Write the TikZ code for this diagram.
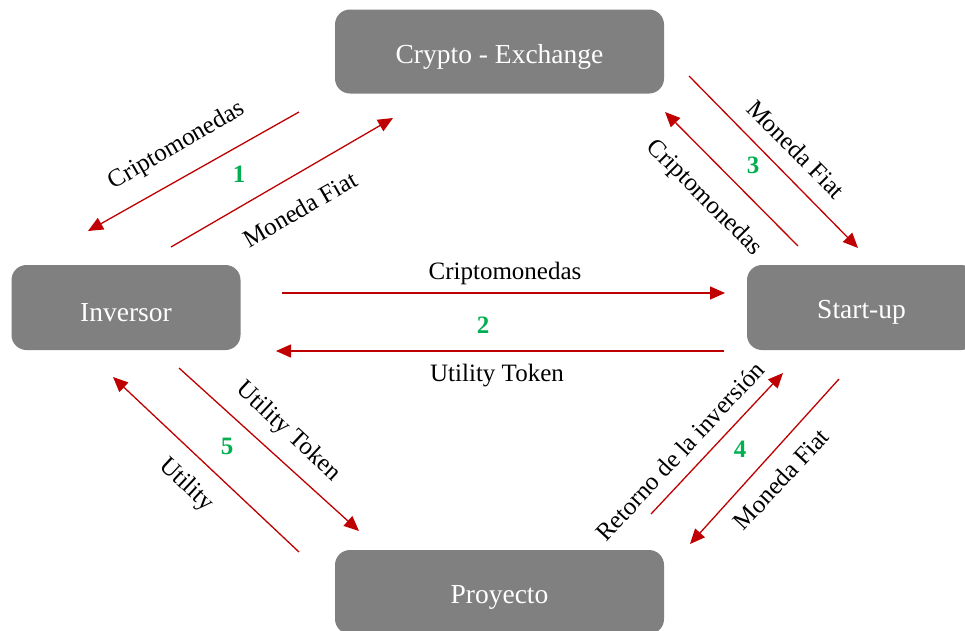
\documentclass[tikz,border=0pt]{standalone}
\usepackage{fontspec}
\setmainfont{Liberation Serif}
\usetikzlibrary{arrows.meta}
\definecolor{boxgray}{HTML}{808080}
\definecolor{arrred}{HTML}{C00000}
\definecolor{numgreen}{HTML}{00B050}
\newcommand{\boxtxt}[1]{\raisebox{-5pt}[\height][\depth]{#1}}
\tikzset{
  entity/.style={draw=none, fill=boxgray, rounded corners=15pt, text=white, font=\fontsize{27.5}{33}\selectfont},
  flow/.style={draw=arrred, line width=1.3pt, -{Triangle[length=15pt,width=13pt]}},
  lbl/.style={font=\fontsize{25}{30}\selectfont, inner sep=0pt},
  num/.style={font=\fontsize{25}{30}\selectfont\bfseries, text=numgreen, inner sep=0pt}
}
\begin{document}
\begin{tikzpicture}[x=1pt,y=-1pt]
\clip (0,0) rectangle (965,630);
\fill[white] (0,0) rectangle (965,630);
% boxes
\node[entity, minimum width=329pt, minimum height=84pt] (ex) at (499.5,51.5) {\boxtxt{Crypto - Exchange}};
\node[entity, minimum width=229pt, minimum height=85pt] (inv) at (126,307.5) {\boxtxt{Inversor}};
\node[entity, minimum width=229pt, minimum height=85pt] (st) at (861.5,307.5) {\boxtxt{Start-up}};
\node[entity, minimum width=329pt, minimum height=84pt] (pr) at (499.5,592) {\boxtxt{Proyecto}};
% pair 1
\coordinate (a1s) at (299,112); \coordinate (a1e) at (88,231);
\coordinate (b1s) at (171,247); \coordinate (b1e) at (393,118);
\draw[flow] (a1s) -- (a1e);
\draw[flow] (b1s) -- (b1e);
\node[lbl, rotate=30] (l1a) at (177,146) {Criptomonedas};
\node[lbl, rotate=30] (l1b) at (300,209) {Moneda Fiat};
\node[num] (n1) at (239,174) {1};
% pair 3
\coordinate (a3s) at (689,76); \coordinate (a3e) at (858,248);
\coordinate (b3s) at (798,246); \coordinate (b3e) at (665,112);
\draw[flow] (a3s) -- (a3e);
\draw[flow] (b3s) -- (b3e);
\node[lbl, rotate=-45] (l3a) at (796,149) {Moneda Fiat};
\node[lbl, rotate=-45] (l3b) at (704,198) {Criptomonedas};
\node[num] (n3) at (753,165) {3};
% pair 2
\coordinate (a2s) at (282,293); \coordinate (a2e) at (725,293);
\coordinate (b2s) at (724,351); \coordinate (b2e) at (276,351);
\draw[flow] (a2s) -- (a2e);
\draw[flow] (b2s) -- (b2e);
\node[lbl] (l2a) at (505,273) {Criptomonedas};
\node[lbl] (l2b) at (497,376) {Utility Token};
\node[num] (n2) at (483,325) {2};
% pair 5
\coordinate (a5s) at (299,552); \coordinate (a5e) at (113,377);
\coordinate (b5s) at (179,368); \coordinate (b5e) at (359,531);
\draw[flow] (a5s) -- (a5e);
\draw[flow] (b5s) -- (b5e);
\node[lbl, rotate=-43] (l5a) at (288,432) {Utility Token};
\node[lbl, rotate=-43] (l5b) at (186,485) {Utility};
\node[num] (n5) at (227,446) {5};
% pair 4
\coordinate (a4s) at (651,514); \coordinate (a4e) at (783,373);
\coordinate (b4s) at (839,379); \coordinate (b4e) at (690,544);
\draw[flow] (a4s) -- (a4e);
\draw[flow] (b4s) -- (b4e);
\node[lbl, rotate=47] (l4a) at (680,451) {Retorno de la inversión};
\node[lbl, rotate=47] (l4b) at (781,479) {Moneda Fiat};
\node[num] (n4) at (740,449) {4};
\end{tikzpicture}
\end{document}
